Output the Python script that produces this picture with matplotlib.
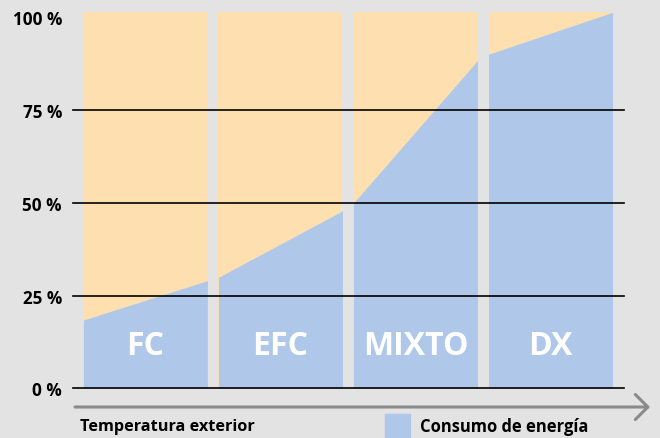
import matplotlib.pyplot as plt
from matplotlib.patches import Rectangle

# data
modes = ["FC", "EFC", "MIXTO", "DX"]
energy_start = [18.4, 29.9, 49.9, 90.0]
energy_end = [29.0, 47.8, 88.3, 101.3]
top = 101.3
grid_levels = [0, 25, 50, 75]
tick_values = [0, 25, 50, 75, 100]
tick_labels = ["0 %", "25 %", "50 %", "75 %", "100 %"]

bg = "#e3e3e3"
orange = "#fedfb0"
blue = "#afc8ea"
plt.rcParams["font.family"] = ["Open Sans", "DejaVu Sans"]

fig = plt.figure(figsize=(6.6, 4.39), dpi=100, facecolor=bg)
ax = fig.add_axes([73 / 660, (439 - 389.3) / 439, 551 / 660, 376 / 439])
ax.set_facecolor(bg)

w = 124 / 135
for i, m in enumerate(modes):
    ax.bar(i, top, width=w, color=orange, zorder=1)
    xs = [i - w / 2, i + w / 2]
    ax.fill_between(xs, 0, [energy_start[i], energy_end[i]], color=blue, lw=0, zorder=2)
    ax.text(i, 11.5, m, color="white", fontsize=23, fontweight="bold",
            ha="center", va="center", zorder=4)

for lv in grid_levels:
    ax.axhline(lv, color="black", lw=1.2, zorder=3, clip_on=False)

ax.set_xlim(-0.536, 3.544)
ax.set_ylim(0, top)
ax.set_xticks([])
ax.set_yticks(tick_values)
ax.set_yticklabels(tick_labels, fontsize=12.3, fontweight="bold")
ax.tick_params(axis="y", length=0, pad=8)
for s in ax.spines.values():
    s.set_visible(False)

# temperature arrow
ax.annotate("", xy=(650 / 660, 1 - 408 / 439), xytext=(75 / 660, 1 - 408 / 439),
            xycoords="figure fraction", textcoords="figure fraction",
            arrowprops=dict(arrowstyle="->,head_length=0.9,head_width=0.9",
                            color="#8a8a8a", lw=2.2, shrinkA=0, shrinkB=0))

fig.text(80 / 660, 1 - 427 / 439, "Temperatura exterior", fontsize=11.7,
         fontweight="bold", va="center", ha="left")
fig.patches.append(Rectangle((385 / 660, 0), 25 / 660, 24 / 439, color=blue,
                             transform=fig.transFigure, figure=fig))
fig.text(420 / 660, 1 - 427 / 439, "Consumo de energía", fontsize=11.9,
         fontweight="bold", va="center", ha="left")

fig.savefig("out.png", dpi=100, facecolor=bg)
